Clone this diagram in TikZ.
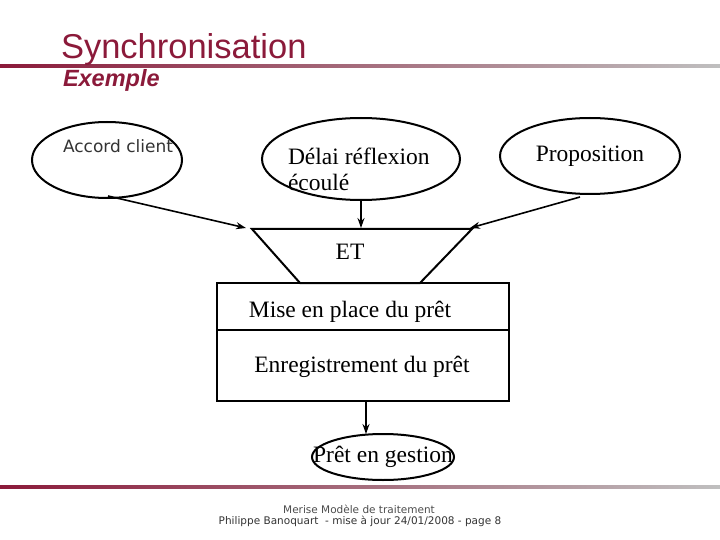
\documentclass[tikz,border=0pt]{standalone}
\usepackage{fontspec}
\setmainfont{Liberation Serif}
\newfontfamily\arial{Liberation Sans}
\newfontfamily\dvs{DejaVu Sans}
\usetikzlibrary{arrows.meta}
\definecolor{titred}{HTML}{8B1A3A}
\begin{document}
\begin{tikzpicture}[x=1pt,y=-1pt,line width=2pt,
  arr/.style={-{Stealth[length=10pt,width=7pt]},line width=1.6pt},
  txt/.style={font=\fontsize{23.5}{28}\selectfont,inner sep=0pt}]
\useasboundingbox (0,0) rectangle (720,540);
\shade[left color=titred,right color=black!25] (0,64.5) rectangle (720,67.5);
\shade[left color=titred,right color=black!25] (0,485.5) rectangle (720,488.5);
\node[anchor=west,inner sep=0pt,text=titred,font=\arial\fontsize{34.5}{38}\selectfont] (title) at (60,50) {Synchronisation};
\node[anchor=west,inner sep=0pt,text=titred,font=\arial\itshape\bfseries\fontsize{23.5}{28}\selectfont] (sub) at (62,80) {Exemple};
\draw (107,160) ellipse [x radius=75,y radius=38];
\node[anchor=west,inner sep=0pt,font=\dvs\fontsize{17}{20}\selectfont,text=black!80] (t1) at (62,146) {Accord client};
\draw (361,159) ellipse [x radius=99,y radius=41];
\node[anchor=west,align=left,inner sep=0pt,font=\fontsize{23.5}{26}\selectfont] (t2) at (287,169) {Délai réflexion\\écoulé};
\draw (590,156) ellipse [x radius=90,y radius=38];
\node[txt] (t3) at (590,156) {Proposition};
\draw (252,229) -- (472,229) -- (420,283) -- (300,283) -- cycle;
\node[txt] (et) at (350,252) {ET};
\coordinate (a1s) at (108,196); \coordinate (a1e) at (246,228);
\coordinate (a2s) at (361,200); \coordinate (a2e) at (361,228);
\coordinate (a3s) at (580,197); \coordinate (a3e) at (470,228);
\draw[arr] (a1s) -- (a1e);
\draw[arr] (a2s) -- (a2e);
\draw[arr] (a3s) -- (a3e);
\draw (217,283) rectangle (509,401);
\draw (217,330) -- (509,330);
\node[txt] (m1) at (350,312) {Mise en place du prêt};
\node[txt] (m2) at (362,367) {Enregistrement du prêt};
\coordinate (a4s) at (366,401); \coordinate (a4e) at (366,434);
\draw[arr] (a4s) -- (a4e);
\draw (383,457) ellipse [x radius=71,y radius=23];
\node[txt] (t4) at (383,457) {Prêt en gestion};
\node[inner sep=0pt,font=\dvs\fontsize{10.5}{12}\selectfont,text=black!70] (f1) at (359,509) {Merise Modèle de traitement};
\node[inner sep=0pt,font=\dvs\fontsize{10.5}{12}\selectfont,text=black!80] (f2) at (360,521) {Philippe Banoquart\ \ - mise à jour 24/01/2008 - page 8};
\end{tikzpicture}
\end{document}
